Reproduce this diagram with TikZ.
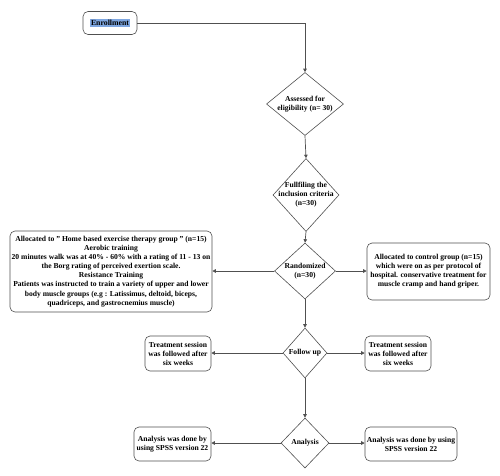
\documentclass[tikz,border=0pt]{standalone}
\usepackage{fontspec}
\setmainfont{Liberation Serif}
\usetikzlibrary{shapes.geometric,arrows.meta}
\definecolor{linec}{HTML}{505050}
\definecolor{hl}{HTML}{7EA6E0}
\begin{document}
\begin{tikzpicture}[x=1pt,y=-1pt,
  box/.style={draw=linec,line width=0.6pt,rounded corners=5pt,align=center,inner sep=1pt,font=\fontsize{7.6}{9.1}\selectfont\bfseries},
  dia/.style={draw=linec,line width=0.6pt,diamond,inner sep=0pt},
  txt/.style={align=center,inner sep=0pt,font=\fontsize{7.6}{9.1}\selectfont\bfseries},
  arr/.style={draw=linec,line width=0.7pt,-{Triangle[length=3.5pt,width=3.5pt]}}]
\useasboundingbox (0,0) rectangle (500,475);
% enrollment
\node[box,minimum width=54pt,minimum height=23pt] (enr) at (110,23) {\setlength{\fboxsep}{1pt}\colorbox{hl}{\fontsize{7.8}{9}\selectfont\bfseries Enrollment}};
% diamonds
\node[dia,minimum width=77pt,minimum height=63pt] (d1) at (305,104) {};
\node[txt] (t1) at (d1.center) {Assessed for\\eligibility (n= 30)};
\node[dia,minimum width=66pt,minimum height=73pt] (d2) at (306,195) {};
\node[txt] (t2) at (d2.center) {Fullfiling the\\inclusion criteria\\(n=30)};
\node[dia,minimum width=61pt,minimum height=56pt] (d3) at (305,271) {};
\node[txt] (t3) at (d3.center) {Randomized\\(n=30)};
\node[dia,minimum width=44pt,minimum height=50pt] (d4) at (305,353) {};
\node[txt] (t4) at (d4.center) {Follow up};
\node[dia,minimum width=48pt,minimum height=50pt] (d5) at (305,443) {};
\node[txt] (t5) at (d5.center) {Analysis};
% boxes
\node[box,minimum width=202pt,minimum height=81pt] (L) at (111,271.5) {Allocated to " Home based exercise therapy group " (n=15)\\Aerobic training\\20 minutes walk was at 40\% - 60\% with a rating of 11 - 13 on\\the Borg rating of perceived exertion scale.\\Resistance Training\\Patients was instructed to train a variety of upper and lower\\body muscle groups (e.g : Latissimus, deltoid, biceps,\\quadriceps, and gastrocnemius muscle)};
\node[box,minimum width=123pt,minimum height=57pt] (R) at (428.5,271.5) {Allocated to control group (n=15)\\which were on as per protocol of\\hospital. conservative treatment for\\muscle cramp and hand griper.};
\node[box,minimum width=66pt,minimum height=35pt] (FL) at (178,353.5) {Treatment session\\was followed after\\six weeks};
\node[box,minimum width=66pt,minimum height=35pt] (FR) at (398,353.5) {Treatment session\\was followed after\\six weeks};
\node[box,minimum width=77pt,minimum height=34pt] (AL) at (172.5,444) {Analysis was done by\\using SPSS version 22};
\node[box,minimum width=92pt,minimum height=34pt] (AR) at (411,444) {Analysis was done by using\\SPSS version 22};
% connectors
\draw[arr] (enr.east) -| (d1.north);
\draw[arr] (d1.south) -- (d2.north);
\draw[arr] (d2.south) -- (d3.north);
\draw[arr] (d3.west) -- (L.east |- d3.west);
\draw[arr] (d3.east) -- (R.west |- d3.east);
\draw[arr] (d3.south) -- (d4.north);
\draw[arr] (d4.west) -- (FL.east |- d4.west);
\draw[arr] (d4.east) -- (FR.west |- d4.east);
\draw[arr] (d4.south) -- (d5.north);
\draw[arr] (d5.west) -- (AL.east |- d5.west);
\draw[arr] (d5.east) -- (AR.west |- d5.east);
\end{tikzpicture}
\end{document}
